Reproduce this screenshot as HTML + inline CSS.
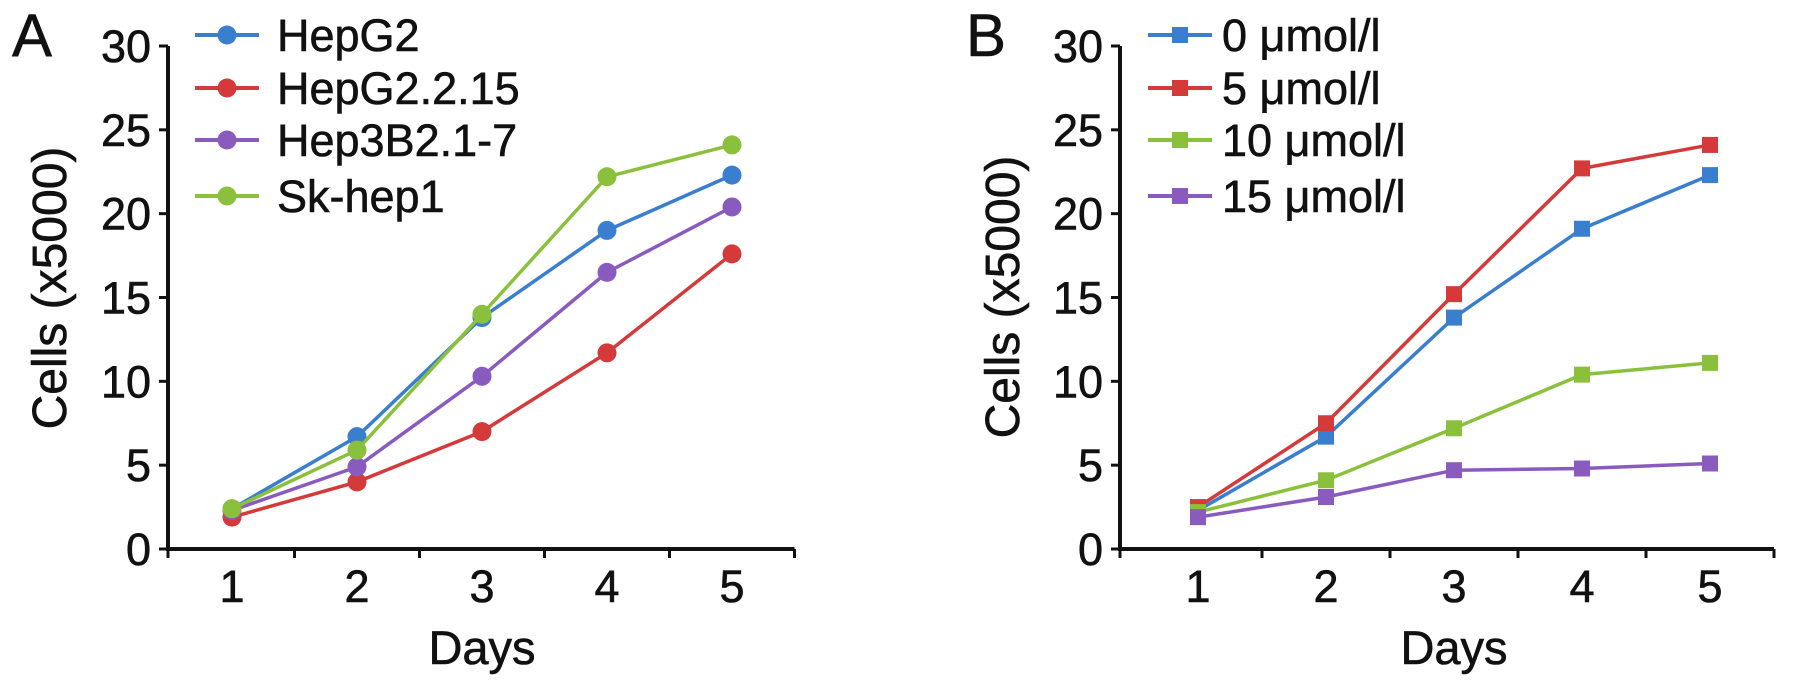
<!DOCTYPE html>
<html><head><meta charset="utf-8"><style>
html,body{margin:0;padding:0;background:#fff;}
svg{display:block;font-family:"Liberation Sans",Arial,sans-serif;}
</style></head><body>
<svg id="chart" width="1795" height="687" viewBox="0 0 1795 687"></svg>
<script>
const days = [1, 2, 3, 4, 5];
const yTicks = [0, 5, 10, 15, 20, 25, 30];
const namesA = ["HepG2", "HepG2.2.15", "Hep3B2.1-7", "Sk-hep1"];
const hepg2 = [2.4, 6.7, 13.8, 19.0, 22.3];
const hepg2215 = [1.9, 4.0, 7.0, 11.7, 17.6];
const hep3b = [2.3, 4.9, 10.3, 16.5, 20.4];
const skhep1 = [2.4, 5.9, 14.0, 22.2, 24.1];
const namesB = ["0 μmol/l", "5 μmol/l", "10  μmol/l", "15  μmol/l"];
const dose0 = [2.3, 6.7, 13.8, 19.1, 22.3];
const dose5 = [2.5, 7.5, 15.2, 22.7, 24.1];
const dose10 = [2.2, 4.1, 7.2, 10.4, 11.1];
const dose15 = [1.9, 3.1, 4.7, 4.8, 5.1];

const colors = ["#3a7fcf", "#d43a3a", "#8a5bbf", "#8bc03c"];
const colorsB = ["#3a7fcf", "#d43a3a", "#8bc03c", "#8a5bbf"];
const NS = "http://www.w3.org/2000/svg";
const svg = document.getElementById("chart");
function mk(tag, attrs, parent) {
  const e = document.createElementNS(NS, tag);
  for (const k in attrs) e.setAttribute(k, attrs[k]);
  (parent || svg).appendChild(e);
  return e;
}
const TXT = {fill: "#111", stroke: "#111", "stroke-width": 0.6};
function txt(attrs, parent) { return mk("text", Object.assign({}, TXT, attrs), parent); }

function panel(cfg) {
  const g = mk("g", {});
  
  
  const x = d => cfg.x1 + (d - 1) * cfg.dx;
  const y = v => cfg.y0 - v * (cfg.y0 - cfg.y30) / 30;
  const L = txt({x: cfg.letterX, y: 56, "font-size": 60}, g);
  L.textContent = cfg.letter;
  
  
  const xEnd = x(5.5);
  const ax = mk("path", {d: `M${cfg.ax} ${y(30)} V${cfg.y0} H${xEnd}`, stroke: "#111", "stroke-width": 4, fill: "none"}, g);
  
  
  yTicks.forEach(t => {
    mk("line", {x1: cfg.ax - 9, x2: cfg.ax, y1: y(t), y2: y(t), stroke: "#111", "stroke-width": 3}, g);
    const tl = txt({x: cfg.ax - 17, y: y(t) + 16, "font-size": 45, "text-anchor": "end"}, g);
    tl.textContent = t;
    
    
  });
  for (let i = 0; i <= 5; i++) {
    const xx = i === 0 ? cfg.ax : x(i + 0.5);
    mk("line", {x1: xx, x2: xx, y1: cfg.y0, y2: cfg.y0 + 9, stroke: "#111", "stroke-width": 3}, g);
  }
  days.forEach(d => {
    const tl = txt({x: x(d), y: 602, "font-size": 45, "text-anchor": "middle"}, g);
    tl.textContent = d;
    
    
  });
  const xt = txt({x: x(3), y: 664, "font-size": 47, "text-anchor": "middle"}, g);
  xt.textContent = "Days";
  
  
  const yt = txt({x: 0, y: 0, "font-size": 48, "text-anchor": "middle", transform: `translate(${cfg.ytX},${cfg.ytY}) rotate(-90)`}, g);
  yt.textContent = "Cells (x5000)";
  
  
  cfg.series.forEach((s, si) => {
    const sg = mk("g", {}, g);
    
    
    const pts = s.map((v, i) => x(days[i]) + "," + y(v)).join(" ");
    mk("polyline", {points: pts, fill: "none", stroke: cfg.colors[si], "stroke-width": 3.5}, sg);
    s.forEach((v, i) => {
      let m;
      if (cfg.square) m = mk("rect", {x: x(days[i]) - 8, y: y(v) - 8, width: 16, height: 16, fill: cfg.colors[si]}, sg);
      else m = mk("circle", {cx: x(days[i]), cy: y(v), r: 9.5, fill: cfg.colors[si]}, sg);
      
      
    });
  });
  const rows = [35, 88, 140, 196];
  cfg.names.forEach((n, i) => {
    const lg = mk("g", {}, g);
    
    
    mk("line", {x1: cfg.legX1, x2: cfg.legX2, y1: rows[i], y2: rows[i], stroke: cfg.colors[i], "stroke-width": 4}, lg);
    const mx = (cfg.legX1 + cfg.legX2) / 2;
    if (cfg.square) mk("rect", {x: mx - 8, y: rows[i] - 8, width: 16, height: 16, fill: cfg.colors[i]}, lg);
    else mk("circle", {cx: mx, cy: rows[i], r: 9.5, fill: cfg.colors[i]}, lg);
    const t = txt({x: cfg.legTextX, y: rows[i] + 16, "font-size": 45}, lg);
    t.textContent = n;
  });
}

panel({id: "panel-a", letter: "A", letterX: 12, ax: 168, x1: 232, dx: 125, y0: 549, y30: 46,
  ytX: 66, ytY: 288, series: [hepg2, hepg2215, hep3b, skhep1], names: namesA, colors: colors,
  square: false, legX1: 195, legX2: 259, legTextX: 277});
panel({id: "panel-b", letter: "B", letterX: 966, ax: 1120, x1: 1198, dx: 128, y0: 549, y30: 46,
  ytX: 1019, ytY: 297, series: [dose0, dose5, dose10, dose15], names: namesB, colors: colorsB,
  square: true, legX1: 1148, legX2: 1212, legTextX: 1222});
</script>
</body></html>
